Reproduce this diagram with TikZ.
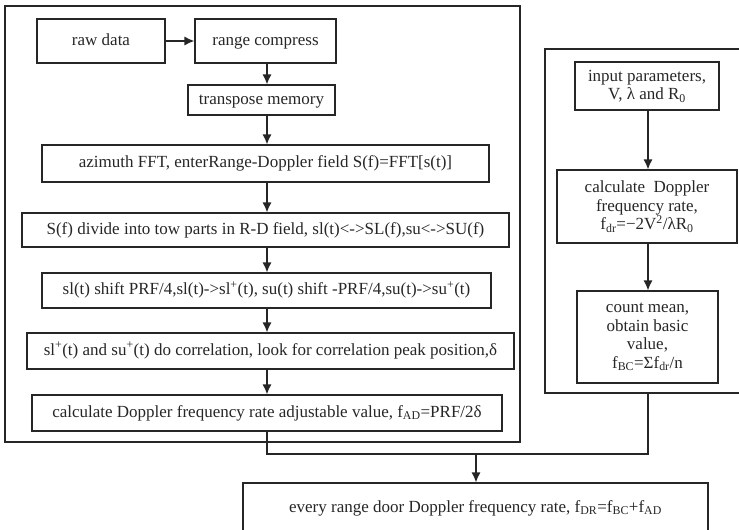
\documentclass[tikz,border=0pt]{standalone}
\usepackage{fontspec}
\setmainfont{Liberation Serif}
\usetikzlibrary{arrows.meta,calc}
\begin{document}
\begin{tikzpicture}[x=1pt,y=-1pt,
  box/.style={draw=black!85,line width=1.2pt,inner sep=0pt,align=center,text=black!85,
    font=\fontsize{17}{18.5}\selectfont},
  one/.style={box,text height=11.5pt,text depth=3.5pt},
  frame/.style={draw=black!85,line width=1.2pt,inner sep=0pt},
  arr/.style={draw=black!85,line width=1.2pt,-{Latex[length=10pt,width=9pt]}},
  ln/.style={draw=black!85,line width=1.2pt}]
\useasboundingbox (0,0) rectangle (739,530);
\clip (0,0) rectangle (739,530);
% frames
\node[frame,minimum width=515pt,minimum height=436pt] (lframe) at (262.5,224) {};
\node[frame,minimum width=200pt,minimum height=344pt] (rframe) at (645,221) {};
% left chain
\node[one,minimum width=128pt,minimum height=44pt] (raw) at (101,41) {raw data};
\node[one,minimum width=141pt,minimum height=44pt] (range) at (265.5,41) {range compress};
\node[one,minimum width=147pt,minimum height=30pt] (transp) at (261.5,100) {transpose memory};
\node[one,minimum width=447pt,minimum height=37pt] (azim) at (265.5,163.5) {azimuth FFT, enterRange-Doppler field S(f)=FFT[s(t)]};
\node[one,minimum width=487pt,minimum height=34pt] (divide) at (265.5,230) {S(f) divide into tow parts in R-D field, sl(t)<->SL(f),su<->SU(f)};
\node[one,minimum width=449pt,minimum height=35pt] (shift) at (266.5,290.5) {sl(t) shift PRF/4,sl(t)->sl\textsuperscript{+}(t), su(t) shift -PRF/4,su(t)->su\textsuperscript{+}(t)};
\node[one,minimum width=487pt,minimum height=36pt] (corr) at (270.5,351) {sl\textsuperscript{+}(t) and su\textsuperscript{+}(t) do correlation, look for correlation peak position,δ};
\node[one,minimum width=470pt,minimum height=36pt] (adj) at (267,413) {calculate Doppler frequency rate adjustable value, f\textsubscript{AD}=PRF/2δ};
% right chain
\node[box,minimum width=144pt,minimum height=48pt] (input) at (647,86) {input parameters,\\V, λ and R\textsubscript{0}};
\node[box,minimum width=180pt,minimum height=73pt] (calcd) at (647,206.5) {calculate\ \ Doppler\\frequency rate,\\f\textsubscript{dr}=−2V\textsuperscript{2}/λR\textsubscript{0}};
\node[box,minimum width=141pt,minimum height=92pt] (count) at (647.5,337) {count mean,\\obtain basic\\value,\\f\textsubscript{BC}=Σf\textsubscript{dr}/n};
% final
\node[one,minimum width=465pt,minimum height=50pt] (final) at (475.5,508) {every range door Doppler frequency rate, f\textsubscript{DR}=f\textsubscript{BC}+f\textsubscript{AD}};
% connectors
\coordinate (ax) at (267,0);
\coordinate (bx) at (648,0);
\coordinate (m) at (476,454);
\draw[arr] (raw.east) -- (range.west);
\draw[arr] (range.south -| ax) -- (transp.north -| ax);
\draw[arr] (transp.south -| ax) -- (azim.north -| ax);
\draw[arr] (azim.south -| ax) -- (divide.north -| ax);
\draw[arr] (divide.south -| ax) -- (shift.north -| ax);
\draw[arr] (shift.south -| ax) -- (corr.north -| ax);
\draw[arr] (corr.south -| ax) -- (adj.north -| ax);
\draw[arr] (input.south -| bx) -- (calcd.north -| bx);
\draw[arr] (calcd.south -| bx) -- (count.north -| bx);
\draw[ln] (adj.south -| ax) |- (m);
\draw[ln] (rframe.south -| bx) |- (m);
\draw[arr] (m) -- (final.north -| m);
\end{tikzpicture}
\end{document}
